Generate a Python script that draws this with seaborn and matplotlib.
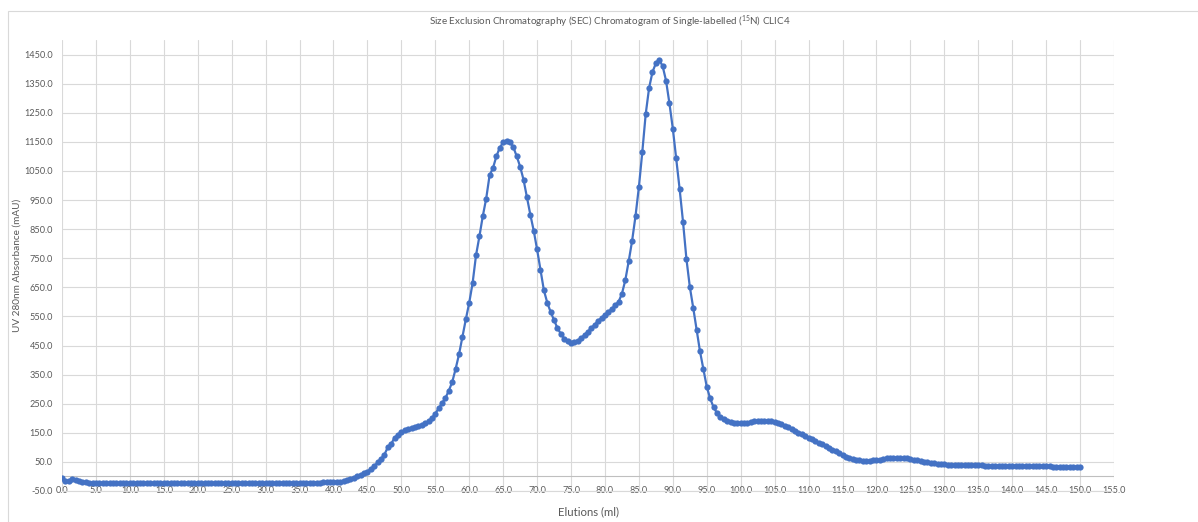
import numpy as np
import pandas as pd
import matplotlib
matplotlib.use("Agg")
import matplotlib.pyplot as plt
import seaborn as sns
from matplotlib.ticker import FormatStrFormatter, MultipleLocator
from matplotlib.patches import Rectangle

# ---------------- data ----------------
elution_start = 0.0
elution_step = 0.5
absorbance = [
    -5, -17, -14, -9, -12, -16, -18, -20, -21, -22,            # 0.0 - 4.5
    -23, -23, -24, -24, -24, -24, -24, -24, -24, -24,          # 5.0 - 9.5
    -24, -24, -24, -24, -24, -24, -24, -24, -24, -24,          # 10.0 - 14.5
    -24, -24, -24, -24, -24, -24, -24, -24, -24, -24,          # 15.0 - 19.5
    -24, -24, -24, -24, -24, -24, -24, -24, -24, -24,          # 20.0 - 24.5
    -24, -24, -24, -23, -23, -23, -23, -23, -23, -23,          # 25.0 - 29.5
    -23, -23, -23, -23, -23, -23, -23, -22, -22, -22,          # 30.0 - 34.5
    -22, -22, -22, -21, -21, -21, -21, -20, -20, -20,          # 35.0 - 39.5
    -19, -19, -18, -16, -12, -8, -4, 1, 6, 11,                 # 40.0 - 44.5
    17, 26, 35, 48, 60, 75, 100, 112, 133, 143,                # 45.0 - 49.5
    152, 158, 162, 166, 170, 172, 177, 182, 190, 200,          # 50.0 - 54.5
    216, 234, 252, 270, 295, 325, 370, 420, 480, 540,          # 55.0 - 59.5
    597, 665, 760, 825, 895, 955, 1035, 1060, 1100, 1130,      # 60.0 - 64.5
    1148, 1154, 1148, 1132, 1100, 1065, 1020, 960, 900, 845,   # 65.0 - 69.5
    780, 710, 640, 597, 565, 537, 510, 490, 474, 464,          # 70.0 - 74.5
    459, 461, 467, 475, 487, 498, 510, 522, 535, 545,          # 75.0 - 79.5
    555, 565, 576, 588, 600, 628, 675, 740, 810, 895,          # 80.0 - 84.5
    995, 1115, 1245, 1335, 1390, 1420, 1432, 1410, 1360, 1282, # 85.0 - 89.5
    1195, 1093, 988, 875, 748, 652, 580, 505, 430, 368,        # 90.0 - 94.5
    308, 268, 238, 218, 205, 196, 190, 186, 184, 183,          # 95.0 - 99.5
    183, 184, 185, 187, 189, 190, 191, 192, 191, 190,          # 100.0 - 104.5
    188, 184, 180, 175, 169, 163, 157, 151, 145, 139,          # 105.0 - 109.5
    133, 127, 122, 116, 110, 104, 98, 92, 86, 80,              # 110.0 - 114.5
    74, 68, 63, 60, 57, 55, 54, 54, 54, 55,                    # 115.0 - 119.5
    56, 58, 60, 62, 63, 64, 64, 64, 63, 62,                    # 120.0 - 124.5
    60, 58, 56, 53, 51, 49, 47, 45, 44, 43,                    # 125.0 - 129.5
    42, 41, 40, 40, 39, 39, 39, 38, 38, 38,                    # 130.0 - 134.5
    38, 38, 37, 37, 37, 37, 37, 37, 36, 36,                    # 135.0 - 139.5
    36, 36, 36, 36, 36, 35, 35, 35, 35, 35,                    # 140.0 - 144.5
    35, 35, 34, 34, 34, 34, 34, 33, 33, 33,                    # 145.0 - 149.5
    31,                                                        # 150.0
]
elution_ml = elution_start + elution_step * np.arange(len(absorbance))

title_text = "Size Exclusion Chromatography (SEC) Chromatogram of Single-labelled ($^{15}$N) CLIC4"
x_label = "Elutions (ml)"
y_label = "UV 280nm Absorbance (mAU)"

# ---------------- style ----------------
sns.set_theme(style="white")
plt.rcParams["font.family"] = ["Lato", "DejaVu Sans"]
plt.rcParams["mathtext.fontset"] = "custom"
plt.rcParams["mathtext.rm"] = "Lato"
plt.rcParams["mathtext.it"] = "Lato"

text_col = "#595959"
grid_col = "#d9d9d9"
line_col = "#4472C4"

W, H = 1198, 522
fig = plt.figure(figsize=(W / 100, H / 100), dpi=100)
fig.patch.set_facecolor("white")

left, right, top, bottom = 62, 1114, 40, 491
ax = fig.add_axes([left / W, 1 - bottom / H, (right - left) / W, (bottom - top) / H])

df = pd.DataFrame({"Elution (ml)": elution_ml, "Absorbance (mAU)": absorbance})
sns.lineplot(data=df, x="Elution (ml)", y="Absorbance (mAU)", ax=ax,
             color=line_col, linewidth=1.6, marker="o", markersize=4.5,
             markeredgewidth=0, markerfacecolor=line_col, zorder=5)

ax.set_xlim(0, 155)
ax.set_ylim(-50, 1500)
ax.xaxis.set_major_locator(MultipleLocator(5))
ax.set_yticks(np.arange(-50, 1451, 100))
ax.xaxis.set_major_formatter(FormatStrFormatter("%.1f"))
ax.yaxis.set_major_formatter(FormatStrFormatter("%.1f"))

ax.grid(True, color=grid_col, linewidth=0.8)
ax.set_axisbelow(True)
for s in ["top", "right", "left"]:
    ax.spines[s].set_visible(False)
ax.spines["bottom"].set_color(grid_col)
ax.spines["bottom"].set_linewidth(0.8)
ax.axhline(0, color="#bfbfbf", linewidth=0.8, zorder=1)

ax.tick_params(axis="both", length=0, labelsize=6.6, labelcolor=text_col)
ax.tick_params(axis="x", pad=-3.6)
ax.tick_params(axis="y", pad=6.5)

ax.set_xlabel("")
ax.set_ylabel("")
fig.text((left + right) / 2 / W, 1 - 512 / H, x_label, ha="center", va="center",
         fontsize=8.2, color=text_col)
fig.text(17 / W, 1 - 265 / H, y_label, ha="center", va="center", rotation=90,
         fontsize=7.2, color=text_col)
fig.text(610 / W, 1 - 22 / H, title_text, ha="center", va="center",
         fontsize=7.1, color=text_col)

fig.patches.append(Rectangle((8 / W, -0.2), 1.5, 1.2 - 11 / H, transform=fig.transFigure,
                             fill=False, edgecolor=grid_col, linewidth=0.8))

fig.savefig("out.png", dpi=100)
